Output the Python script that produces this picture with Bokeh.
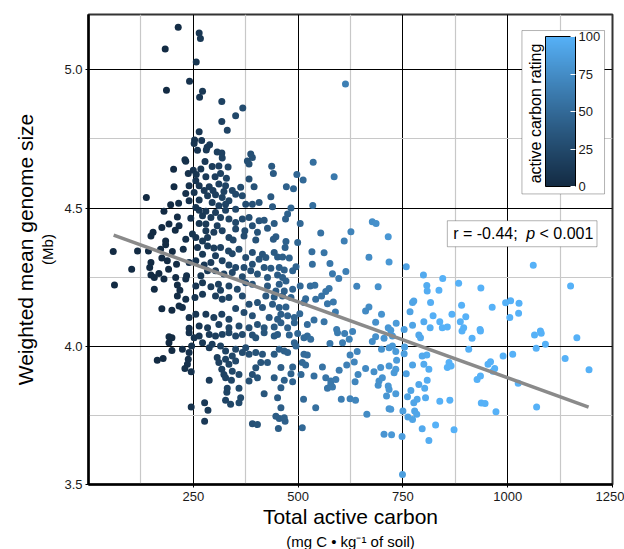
import numpy as np
from bokeh.plotting import figure
from bokeh.models import (Range1d, FixedTicker, LinearColorMapper, ColorBar,
                          BoxAnnotation, Label, Title, ColumnDataSource,
                          NumeralTickFormatter)
from bokeh.embed import file_html
from bokeh.resources import INLINE

# ---------------- data ----------------
carbon = [
    # top band
    214, 264, 267, 183, 257, 241, 186, 272, 265, 613, 318, 368, 351, 318, 331, 264,
    253, 270, 252, 289, 283, 260, 281, 307, 318, 319, 230, 232, 278, 387, 391, 379,
    383, 437, 536, 203, 250, 268, 295, 311, 333,
    # upper-left dense
    238, 257, 280, 302, 315, 329, 383, 204, 256, 240, 264, 288, 311, 327, 343, 363,
    395, 276, 297, 323, 138, 232, 252, 284, 303, 319, 335, 351, 367, 240, 264, 375,
    391, 407, 196, 215, 295, 311, 327, 264, 280, 303, 327, 351, 180, 256, 212, 244,
    272, 292, 315, 335, 367, 383, 407, 192, 216, 264, 280, 307, 351, 391, 175, 207,
    154, 149, 248, 280, 284, 299, 319, 351, 373, 403, 232, 256, 272, 335, 345, 371,
    399, 184, 184, 172, 59, 117, 143, 200, 226, 260, 284, 299, 315, 334, 359, 391,
    272, 303, 343, 375, 175, 188, 149, 103, 210, 240, 256, 276, 292, 319, 335, 351,
    371, 391, 407, 146, 149, 157, 168, 191, 208, 234, 232, 268, 284, 303, 323, 343,
    367, 387, 403, 62, 157, 180, 212, 218, 256, 272, 292, 310, 315, 335, 355, 375,
    391, 212, 232, 254, 272, 303, 319, 335, 367, 383, 403, 216, 224, 175, 199, 240,
    256, 280, 299, 318, 335, 351, 371, 391, 403, 240, 264, 284, 311, 335, 359, 383,
    # upper-middle
    441, 497, 512, 586, 472, 489, 435, 439, 483, 535, 475, 470, 419, 443, 427, 505,
    554, 626, 677, 686, 715, 610, 499, 471, 447, 441, 469, 533, 562, 669, 717, 758,
    534, 576, 495, 614, 582, 597, 799, 640, 691, 807, 808, 529, 540, 505, 574, 566,
    556, 542, 518, 514, 584, 570, 776, 773, 669, 661, 699, 767, 589, 504, 491, 475,
    459, 538, 562, 522, 491, 592, 685, 715, 734, 773, 800, 815, 753, 721,
    415, 423, 443, 451, 463, 479, 419, 435, 455, 467, 487, 427, 451, 463, 471, 455,
    427, 447, 467, 487, 423, 443, 463, 483, 415, 439, 455, 471, 431, 451, 419, 443,
    459, 475,
    # upper-right
    1061, 845, 836, 883, 936, 1150, 816, 890, 963, 995, 1007, 1027, 822, 867, 900, 1005,
    1026, 838, 887, 844, 856, 895, 934, 1078,
    # lower-left
    192, 199, 192, 240, 252, 264, 272, 288, 303, 319, 335, 351, 367, 391, 399, 199,
    224, 240, 246, 288, 295, 315, 327, 343, 351, 367, 375, 383, 399, 164, 178, 238,
    236, 230, 245, 307, 311, 327, 335, 351, 359, 318, 323, 343, 383, 391, 399, 403,
    288, 327, 341, 331, 330, 359, 363, 359, 327, 339, 277, 285, 245, 277, 391, 403,
    # lower-middle
    419, 443, 451, 479, 499, 514, 522, 530, 594, 611, 630, 622, 606, 576, 491, 495,
    685, 705, 725, 677, 699, 717, 725, 733, 753, 754, 788, 792, 807, 796, 415, 443,
    455, 467, 475, 514, 522, 624, 641, 411, 427, 510, 518, 558, 616, 634, 661, 681,
    697, 717, 735, 733, 729, 758, 773, 800, 812, 459, 487, 483, 443, 467, 487, 507,
    538, 566, 578, 590, 598, 643, 636, 693, 701, 691, 715, 717, 788, 802, 808, 769,
    419, 459, 570, 582, 578, 711, 733, 804, 784, 776, 451, 513, 603, 624, 637, 761,
    542, 459, 664, 717, 721, 750, 762, 778, 783, 773, 447, 455, 469, 467, 453, 510,
    796, 705, 723, 748, 812, 749,
    # lower-right
    891, 935, 915, 1064, 1080, 1165, 1090, 1068, 907, 989, 1012, 1137, 1194, 860, 856, 865,
    959, 953, 969, 965, 935, 927, 1025, 838, 862, 937, 946, 972, 1069, 828, 872,
]

genome = [
    # top band
    5.154, 5.133, 5.113, 5.075, 5.028, 4.959, 4.926, 4.922, 4.901, 4.949, 4.885, 4.862, 4.834, 4.813, 4.781, 4.776,
    4.746, 4.744, 4.733, 4.729, 4.720, 4.709, 4.710, 4.703, 4.699, 4.681, 4.675, 4.669, 4.668, 4.695, 4.683, 4.670,
    4.659, 4.651, 4.666, 4.640, 4.637, 4.641, 4.650, 4.652, 4.648,
    # upper-left dense
    4.625, 4.621, 4.613, 4.613, 4.625, 4.608, 4.605, 4.577, 4.599, 4.581, 4.581, 4.577, 4.587, 4.581, 4.563, 4.575,
    4.577, 4.563, 4.563, 4.560, 4.538, 4.553, 4.556, 4.544, 4.548, 4.538, 4.526, 4.550, 4.544, 4.526, 4.529, 4.514,
    4.514, 4.520, 4.512, 4.517, 4.520, 4.508, 4.514, 4.492, 4.488, 4.484, 4.492, 4.496, 4.488, 4.502, 4.468, 4.463,
    4.472, 4.466, 4.466, 4.460, 4.460, 4.466, 4.454, 4.442, 4.436, 4.444, 4.442, 4.436, 4.448, 4.436, 4.430, 4.420,
    4.412, 4.399, 4.406, 4.418, 4.393, 4.412, 4.418, 4.424, 4.418, 4.412, 4.387, 4.393, 4.381, 4.393, 4.384, 4.399,
    4.384, 4.381, 4.367, 4.351, 4.343, 4.345, 4.345, 4.343, 4.351, 4.357, 4.363, 4.355, 4.357, 4.345, 4.351, 4.339,
    4.333, 4.327, 4.335, 4.321, 4.319, 4.309, 4.303, 4.279, 4.297, 4.303, 4.309, 4.294, 4.303, 4.309, 4.294, 4.285,
    4.285, 4.297, 4.315, 4.285, 4.258, 4.249, 4.263, 4.279, 4.249, 4.255, 4.243, 4.255, 4.273, 4.273, 4.261, 4.267,
    4.251, 4.273, 4.261, 4.222, 4.206, 4.243, 4.222, 4.203, 4.218, 4.230, 4.215, 4.224, 4.203, 4.218, 4.206, 4.230,
    4.224, 4.182, 4.170, 4.176, 4.188, 4.182, 4.170, 4.176, 4.182, 4.152, 4.158, 4.146, 4.140, 4.136, 4.130, 4.104,
    4.116, 4.116, 4.104, 4.116, 4.098, 4.137, 4.122, 4.110, 4.079, 4.065, 4.073, 4.067, 4.079, 4.067, 4.073, 4.067,
    # upper-middle
    4.625, 4.621, 4.601, 4.613, 4.577, 4.570, 4.541, 4.505, 4.500, 4.509, 4.478, 4.460, 4.456, 4.444, 4.427, 4.444,
    4.410, 4.414, 4.450, 4.444, 4.396, 4.381, 4.375, 4.379, 4.396, 4.387, 4.357, 4.342, 4.338, 4.322, 4.305, 4.288,
    4.297, 4.299, 4.288, 4.270, 4.262, 4.245, 4.258, 4.217, 4.215, 4.220, 4.200, 4.218, 4.221, 4.218, 4.209, 4.198,
    4.182, 4.170, 4.172, 4.158, 4.160, 4.154, 4.164, 4.158, 4.142, 4.128, 4.116, 4.125, 4.124, 4.118, 4.104, 4.110,
    4.116, 4.095, 4.089, 4.079, 4.085, 4.061, 4.087, 4.067, 4.083, 4.076, 4.089, 4.067, 4.061, 4.058,
    4.333, 4.321, 4.339, 4.323, 4.323, 4.319, 4.285, 4.282, 4.285, 4.276, 4.273, 4.249, 4.258, 4.249, 4.236, 4.224,
    4.218, 4.200, 4.200, 4.206, 4.182, 4.178, 4.182, 4.176, 4.140, 4.152, 4.140, 4.142, 4.104, 4.098, 4.067, 4.070,
    4.085, 4.067,
    # upper-right
    4.293, 4.245, 4.203, 4.228, 4.211, 4.218, 4.158, 4.148, 4.141, 4.157, 4.165, 4.156, 4.110, 4.116, 4.107, 4.104,
    4.119, 4.089, 4.089, 4.067, 4.070, 4.067, 4.061, 4.055,
    # lower-left
    4.034, 4.031, 4.013, 4.049, 4.031, 4.037, 4.013, 4.043, 4.037, 4.043, 4.049, 4.037, 4.043, 4.041, 4.031, 3.985,
    3.989, 3.977, 4.001, 3.995, 4.007, 4.001, 3.983, 3.965, 3.989, 3.977, 3.995, 3.971, 3.977, 3.949, 3.956, 3.953,
    3.935, 3.920, 3.908, 3.959, 3.941, 3.953, 3.935, 3.947, 3.898, 3.917, 3.898, 3.910, 3.874, 3.898, 3.922, 3.886,
    3.877, 3.886, 3.877, 3.848, 3.834, 3.848, 3.814, 3.796, 3.805, 3.790, 3.796, 3.769, 3.780, 3.729, 3.720, 3.717,
    # lower-middle
    4.049, 4.037, 4.043, 4.041, 4.046, 4.031, 4.037, 4.025, 4.049, 4.046, 4.053, 4.025, 4.013, 4.010, 4.013, 4.001,
    4.034, 4.029, 4.037, 4.017, 3.989, 3.995, 4.001, 3.981, 3.973, 3.997, 4.041, 4.031, 3.968, 3.965, 3.971, 3.971,
    3.989, 3.983, 3.977, 3.971, 3.968, 3.968, 3.981, 3.941, 3.941, 3.941, 3.932, 3.925, 3.932, 3.943, 3.920, 3.908,
    3.923, 3.929, 3.949, 3.917, 3.904, 3.901, 3.932, 3.935, 3.917, 3.923, 3.925, 3.901, 3.886, 3.877, 3.872, 3.898,
    3.892, 3.886, 3.874, 3.880, 3.913, 3.898, 3.872, 3.874, 3.886, 3.859, 3.856, 3.844, 3.862, 3.848, 3.877, 3.840,
    3.828, 3.850, 3.848, 3.853, 3.862, 3.820, 3.828, 3.814, 3.808, 3.796, 3.814, 3.808, 3.808, 3.810, 3.805, 3.817,
    3.778, 3.778, 3.754, 3.774, 3.772, 3.766, 3.744, 3.766, 3.754, 3.735, 3.747, 3.739, 3.729, 3.741, 3.703, 3.705,
    3.702, 3.682, 3.680, 3.674, 3.659, 3.536,
    # lower-right
    4.055, 4.055, 4.029, 4.041, 4.047, 4.031, 4.007, 3.993, 3.989, 3.965, 3.971, 3.956, 3.915, 3.941, 3.923, 3.929,
    3.944, 3.935, 3.920, 3.910, 3.892, 3.880, 3.866, 3.801, 3.805, 3.795, 3.793, 3.763, 3.780, 3.715, 3.698,
]

# fitted linear trend (end points)
fit_carbon = [60, 1193]
fit_genome = [4.402, 3.780]

x_ticks = [250, 500, 750, 1000, 1250]
x_minor = [125, 375, 625, 875, 1125]
y_ticks = [3.5, 4.0, 4.5, 5.0]
y_minor = [3.75, 4.25, 4.75]
rating_ticks = [0, 25, 50, 75, 100]
stat_text = ["r = -0.44;", "p", "< 0.001"]

# ---------------- styling ----------------
FONT = "Liberation Sans"

# ggplot-style gradient (#132B43 -> #56B1F7), interpolated in CIE Lab
WHITE = np.array([0.95047, 1.0, 1.08883])
M = np.array([[0.4124, 0.3576, 0.1805], [0.2126, 0.7152, 0.0722], [0.0193, 0.1192, 0.9505]])
Minv = np.linalg.inv(M)


def hex_to_lab(h):
    c = np.array([int(h[i:i + 2], 16) for i in (1, 3, 5)]) / 255.0
    lin = np.where(c <= 0.04045, c / 12.92, ((c + 0.055) / 1.055) ** 2.4)
    t = (M @ lin) / WHITE
    f = np.where(t > 0.008856, np.cbrt(t), 7.787 * t + 16 / 116)
    return np.array([116 * f[1] - 16, 500 * (f[0] - f[1]), 200 * (f[1] - f[2])])


def lab_to_hex(lab):
    fy = (lab[0] + 16) / 116
    f = np.array([fy + lab[1] / 500, fy, fy - lab[2] / 200])
    t = np.where(f ** 3 > 0.008856, f ** 3, (f - 16 / 116) / 7.787) * WHITE
    lin = np.clip(Minv @ t, 0, 1)
    c = np.where(lin <= 0.0031308, 12.92 * lin, 1.055 * lin ** (1 / 2.4) - 0.055)
    return "#%02x%02x%02x" % tuple(int(round(v * 255)) for v in np.clip(c, 0, 1))


lab_lo, lab_hi = hex_to_lab("#132B43"), hex_to_lab("#56B1F7")
palette = [lab_to_hex(lab_lo + (lab_hi - lab_lo) * t) for t in np.linspace(0, 1, 256)]

n = min(len(carbon), len(genome))
src = ColumnDataSource(dict(carbon=carbon[:n], genome=genome[:n]))

p = figure(width=624, height=549, x_range=Range1d(0, 1250), y_range=Range1d(3.5, 5.2),
           output_backend="svg", toolbar_location=None,
           min_border_left=88, min_border_right=12, min_border_top=14, min_border_bottom=65)
p.background_fill_color = "white"
p.border_fill_color = "white"
p.outline_line_color = "#333333"
p.outline_line_width = 2

p.xaxis.ticker = FixedTicker(ticks=x_ticks, minor_ticks=x_minor)
p.yaxis.ticker = FixedTicker(ticks=y_ticks, minor_ticks=y_minor)
p.yaxis.formatter = NumeralTickFormatter(format="0.0")
for ax in (p.xaxis, p.yaxis):
    ax.axis_line_color = "black"
    ax.axis_line_width = 2.5
    ax.major_tick_line_color = "black"
    ax.major_tick_out = 3
    ax.major_tick_in = 0
    ax.minor_tick_line_color = None
    ax.major_label_text_font = FONT
    ax.major_label_text_font_size = "13px"
    ax.major_label_text_color = "#1a1a1a"
    ax.axis_label_text_font = FONT
    ax.axis_label_text_font_style = "normal"
    ax.axis_label_text_color = "black"
p.xaxis.major_label_standoff = 3
p.yaxis.major_label_standoff = 2

for g in (p.xgrid, p.ygrid):
    g.grid_line_color = "black"
    g.grid_line_width = 1
    g.minor_grid_line_color = "#c8c8c8"
    g.minor_grid_line_width = 1.2

p.xaxis.axis_label = "Total active carbon"
p.xaxis.axis_label_text_font_size = "21px"
p.xaxis.axis_label_standoff = 1
p.yaxis.axis_label = "(Mb)"
p.yaxis.axis_label_text_font_size = "15px"
p.yaxis.axis_label_standoff = 5

p.add_layout(Title(text="Weighted mean genome size", align="center", text_font=FONT,
                   text_font_size="21px", text_font_style="normal", text_color="black",
                   standoff=0), "left")
p.add_layout(Title(text="(mg C \u2022 kg\u207b\u00b9 of soil)", align="center", text_font=FONT,
                   text_font_size="15px", text_font_style="normal", text_color="black",
                   standoff=0), "below")

pt_mapper = LinearColorMapper(palette=palette, low=200, high=830)
p.scatter("carbon", "genome", source=src, size=7, line_color=None,
          fill_color={"field": "carbon", "transform": pt_mapper})
p.line(fit_carbon, fit_genome, line_color="#8a8a8a", line_width=3.5)

# correlation annotation
p.add_layout(BoxAnnotation(left=856, right=1213, bottom=4.360, top=4.454,
                           fill_color="white", fill_alpha=1, line_color="black", line_width=1))
common = dict(y=4.407, text_baseline="middle", text_font=FONT, text_font_size="16px",
              text_color="black")
p.add_layout(Label(x=870, text=stat_text[0], **common))
p.add_layout(Label(x=1044, text=stat_text[1], text_font_style="italic", **common))
p.add_layout(Label(x=1076, text=stat_text[2], **common))

# colour bar legend
p.add_layout(BoxAnnotation(left=1034, right=1231, bottom=4.551, top=5.142,
                           fill_color="white", fill_alpha=1, line_color="black", line_width=1))
cb_mapper = LinearColorMapper(palette=palette, low=0, high=100)
cb = ColorBar(color_mapper=cb_mapper, ticker=FixedTicker(ticks=rating_ticks),
              orientation="vertical", location=(457, 298), width=30, height=150,
              padding=0, margin=0, label_standoff=3,
              major_label_text_font=FONT, major_label_text_font_size="13px",
              major_label_text_color="#1a1a1a",
              major_tick_in=5, major_tick_out=0, major_tick_line_color="white",
              minor_tick_line_color=None, bar_line_color="black", bar_line_width=1,
              border_line_color=None, background_fill_alpha=0)
p.add_layout(cb)
p.add_layout(Label(x=1066, y=4.842, text="active carbon rating", angle=np.pi / 2,
                   text_align="center", text_baseline="middle", text_font=FONT,
                   text_font_size="16px", text_color="black"))

open("out.html", "w").write(file_html(p, INLINE))
